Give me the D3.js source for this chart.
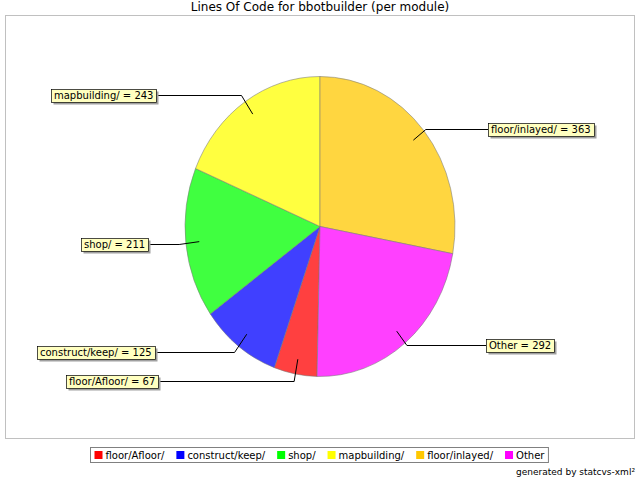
<!DOCTYPE html>
<html>
<head>
<meta charset="utf-8">
<script src="https://cdn.jsdelivr.net/npm/d3@7"></script>
<style>
  body { margin: 0; background: #fff; }
  svg { font-family: "DejaVu Sans", sans-serif; }
</style>
</head>
<body>
<div id="chart"></div>
<script>
// data
const modules = ["floor/Afloor/", "construct/keep/", "shop/", "mapbuilding/", "floor/inlayed/", "Other"];
const linesOfCode = [67, 125, 211, 243, 363, 292];
const sliceColors = ["#ff4040", "#4040ff", "#40ff40", "#ffff40", "#ffd640", "#ff40ff"];
const legendColors = ["#ff0000", "#0000ff", "#00ff00", "#ffff00", "#ffc800", "#ff00ff"];

const W = 640, H = 480;
const cx = 320, cy = 226.5, rx = 135, ry = 150;

const svg = d3.select("#chart").append("svg")
  .attr("width", W)
  .attr("height", H);

// title
svg.append("text")
  .attr("x", W / 2)
  .attr("y", 11)
  .attr("text-anchor", "middle")
  .attr("font-size", 12)
  .attr("fill", "#000")
  .text("Lines Of Code for bbotbuilder (per module)");

// plot border
svg.append("rect")
  .attr("x", 5.5).attr("y", 15.5)
  .attr("width", 629).attr("height", 423)
  .attr("fill", "none")
  .attr("stroke", "#c0c0c0");

// pie: floor/inlayed/ starts at 12 o'clock, clockwise
const total = d3.sum(linesOfCode);
const before = d3.sum(linesOfCode.slice(0, 4));
const start = -before / total * 2 * Math.PI;

const pie = d3.pie().sort(null).startAngle(start).endAngle(start + 2 * Math.PI);
const arcs = pie(linesOfCode);
const arc = d3.arc().innerRadius(0).outerRadius(ry);

const pieG = svg.append("g")
  .attr("transform", `translate(${cx},${cy}) scale(${rx / ry},1)`);

pieG.selectAll("path")
  .data(arcs)
  .join("path")
  .attr("d", arc)
  .attr("fill", (d, i) => sliceColors[i])
  .attr("stroke", "rgba(120,120,120,0.55)")
  .attr("stroke-width", 1)
  .attr("vector-effect", "non-scaling-stroke");

// labels
const pt = (a, f) => [cx + f * rx * Math.sin(a), cy - f * ry * Math.cos(a)];
const labelEdge = (y, right) => {
  const dy = y - cy;
  const dx = 172 * Math.sqrt(1 - (dy / 450) * (dy / 450));
  return right ? cx + dx : cx - dx;
};

const labelG = svg.append("g").attr("font-size", 10);

arcs.forEach((d, i) => {
  const mid = (d.startAngle + d.endAngle) / 2;
  const right = Math.sin(mid) > 0;
  const p0 = pt(mid, 0.9);
  const p1 = pt(mid, right ? 1.02 : 1.05);
  const ly = Math.round(p1[1]);
  const edge = Math.round(labelEdge(ly, right));

  labelG.append("path")
    .attr("d", `M${p0[0]},${p0[1]}L${p1[0]},${ly + 0.5}L${edge},${ly + 0.5}`)
    .attr("fill", "none")
    .attr("stroke", "#000")
    .attr("stroke-width", 1);

  const g = labelG.append("g");
  const txt = g.append("text")
    .attr("y", ly + 4)
    .attr("fill", "#000")
    .text(`${modules[i]} = ${linesOfCode[i]}`);
  const tw = txt.node().getComputedTextLength();
  const bw = Math.round(tw + 6), bh = 13;
  const bx = right ? edge : edge - bw;
  const by = ly - 6;
  txt.attr("x", bx + 3);
  g.insert("rect", "text")
    .attr("x", bx + 2.5).attr("y", by + 2.5)
    .attr("width", bw).attr("height", bh)
    .attr("fill", "#a0a0a0");
  g.insert("rect", "text")
    .attr("x", bx + 0.5).attr("y", by + 0.5)
    .attr("width", bw).attr("height", bh)
    .attr("fill", "#ffffc0")
    .attr("stroke", "#000")
    .attr("stroke-width", 0.7);
});

// legend
const legend = svg.append("g").attr("font-size", 10);
let lx = 0;
modules.forEach((m, i) => {
  const g = legend.append("g");
  g.append("rect")
    .attr("x", 0).attr("y", -4)
    .attr("width", 8).attr("height", 8)
    .attr("fill", legendColors[i]);
  const t = g.append("text")
    .attr("x", 11).attr("y", 4)
    .attr("fill", "#000")
    .text(m);
  const w = 11 + t.node().getComputedTextLength();
  g.attr("transform", `translate(${lx},455)`);
  lx += w + 12;
});
const legW = lx - 12 + 8;
const legX = Math.round(W / 2 - legW / 2) - 0.5;
legend.attr("transform", `translate(${legX + 4},0)`);
svg.insert("rect", "g")
  .attr("x", legX).attr("y", 447.5)
  .attr("width", legW).attr("height", 15)
  .attr("fill", "#fff")
  .attr("stroke", "#808080");

// footer
svg.append("text")
  .attr("x", 635)
  .attr("y", 475)
  .attr("text-anchor", "end")
  .attr("font-size", 9)
  .attr("fill", "#000")
  .text("generated by statcvs-xml²");
</script>
</body>
</html>
